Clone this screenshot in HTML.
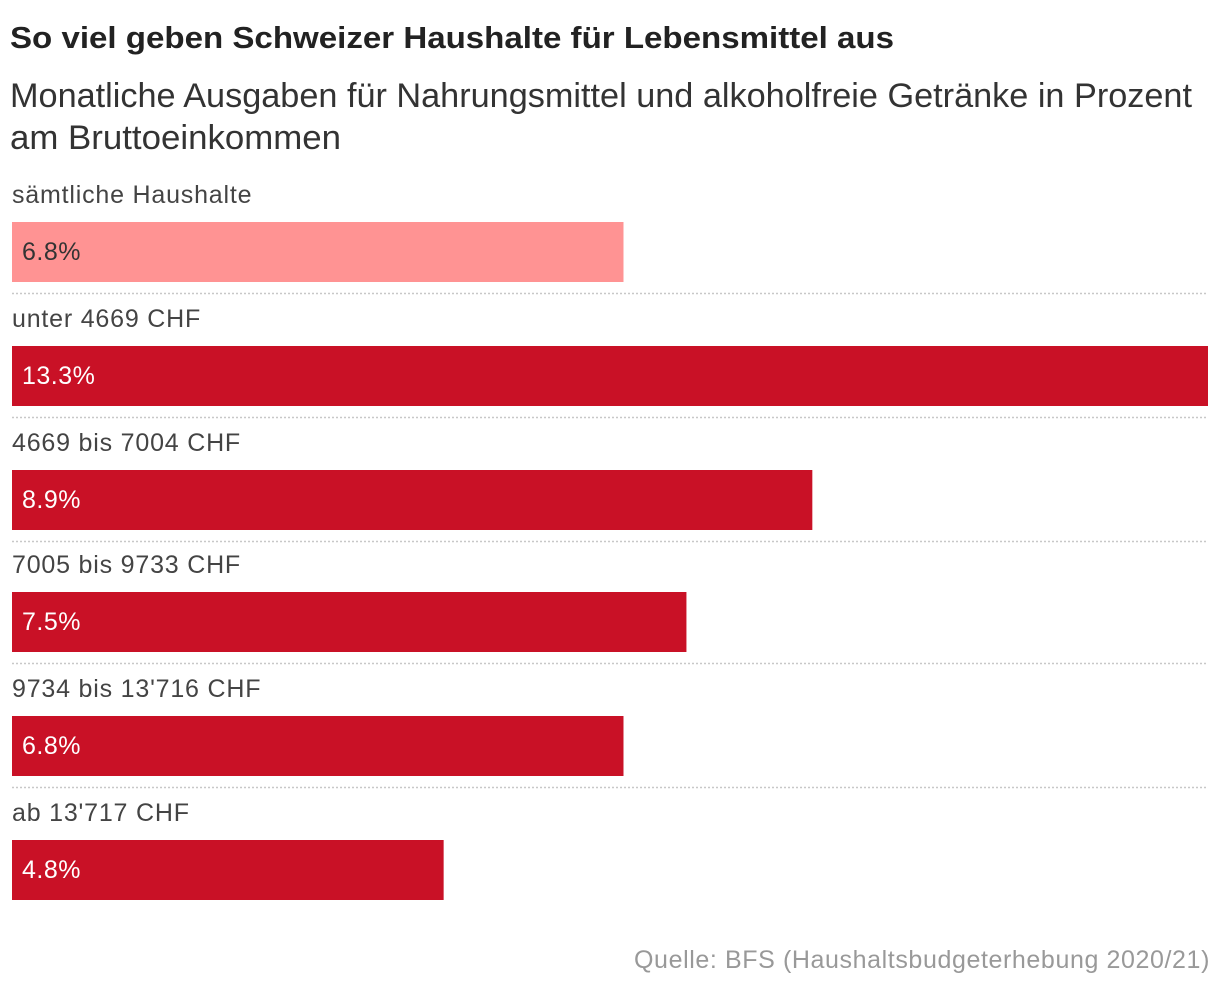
<!DOCTYPE html>
<html><head><meta charset="utf-8"><style>
html,body{margin:0;padding:0;background:#fff;}
svg{display:block;font-family:"Liberation Sans",sans-serif;}
</style></head><body>
<svg id="chart" width="1220" height="990">
<text x="10" y="48" font-size="31" font-weight="bold" fill="#222" textLength="884" lengthAdjust="spacingAndGlyphs">So viel geben Schweizer Haushalte für Lebensmittel aus</text>
<text x="10" y="107" font-size="34" fill="#333" textLength="1182" lengthAdjust="spacingAndGlyphs">Monatliche Ausgaben für Nahrungsmittel und alkoholfreie Getränke in Prozent</text>
<text x="10" y="149" font-size="34" fill="#333" textLength="331" lengthAdjust="spacingAndGlyphs">am Bruttoeinkommen</text>
<g id="bars"></g>
<text x="1210" y="968" font-size="25" fill="#999" text-anchor="end" letter-spacing="0.6">Quelle: BFS (Haushaltsbudgeterhebung 2020/21)</text>
</svg>
<script>
const categories = ["sämtliche Haushalte","unter 4669 CHF","4669 bis 7004 CHF","7005 bis 9733 CHF","9734 bis 13'716 CHF","ab 13'717 CHF"];
const values = [6.8,13.3,8.9,7.5,6.8,4.8];
const valueLabels = ["6.8%","13.3%","8.9%","7.5%","6.8%","4.8%"];
const NS="http://www.w3.org/2000/svg";
const g=document.getElementById('bars');
const x0=12, xMax=Math.max(...values), wFull=1196;
const xScale=v=>v/xMax*wFull;
const rowY=i=>222+i*124 - (i>=3?2:0);
function el(t,a){const e=document.createElementNS(NS,t);for(const k in a)e.setAttribute(k,a[k]);g.appendChild(e);return e;}
categories.forEach((c,i)=>{
  const y=rowY(i);
  const lab=el('text',{x:12,y:y-19,'font-size':25,fill:'#444','letter-spacing':0.8});
  lab.textContent=c;
  
  
  const r=el('rect',{x:x0,y:y,width:xScale(values[i]),height:60,fill:i===0?'#ff9393':'#c91126'});
  
  
  const t=el('text',{x:22,y:y+38,'font-size':25,fill:i===0?'#333':'#fff','letter-spacing':0.5});
  t.textContent=valueLabels[i];
  
  
  if(i<categories.length-1){
    const l=el('line',{x1:12,x2:1208,y1:y+71.5,y2:y+71.5,stroke:'#c8c8c8','stroke-width':1.5,'stroke-dasharray':'2,2'});
    
    
  }
});
</script>
</body></html>
